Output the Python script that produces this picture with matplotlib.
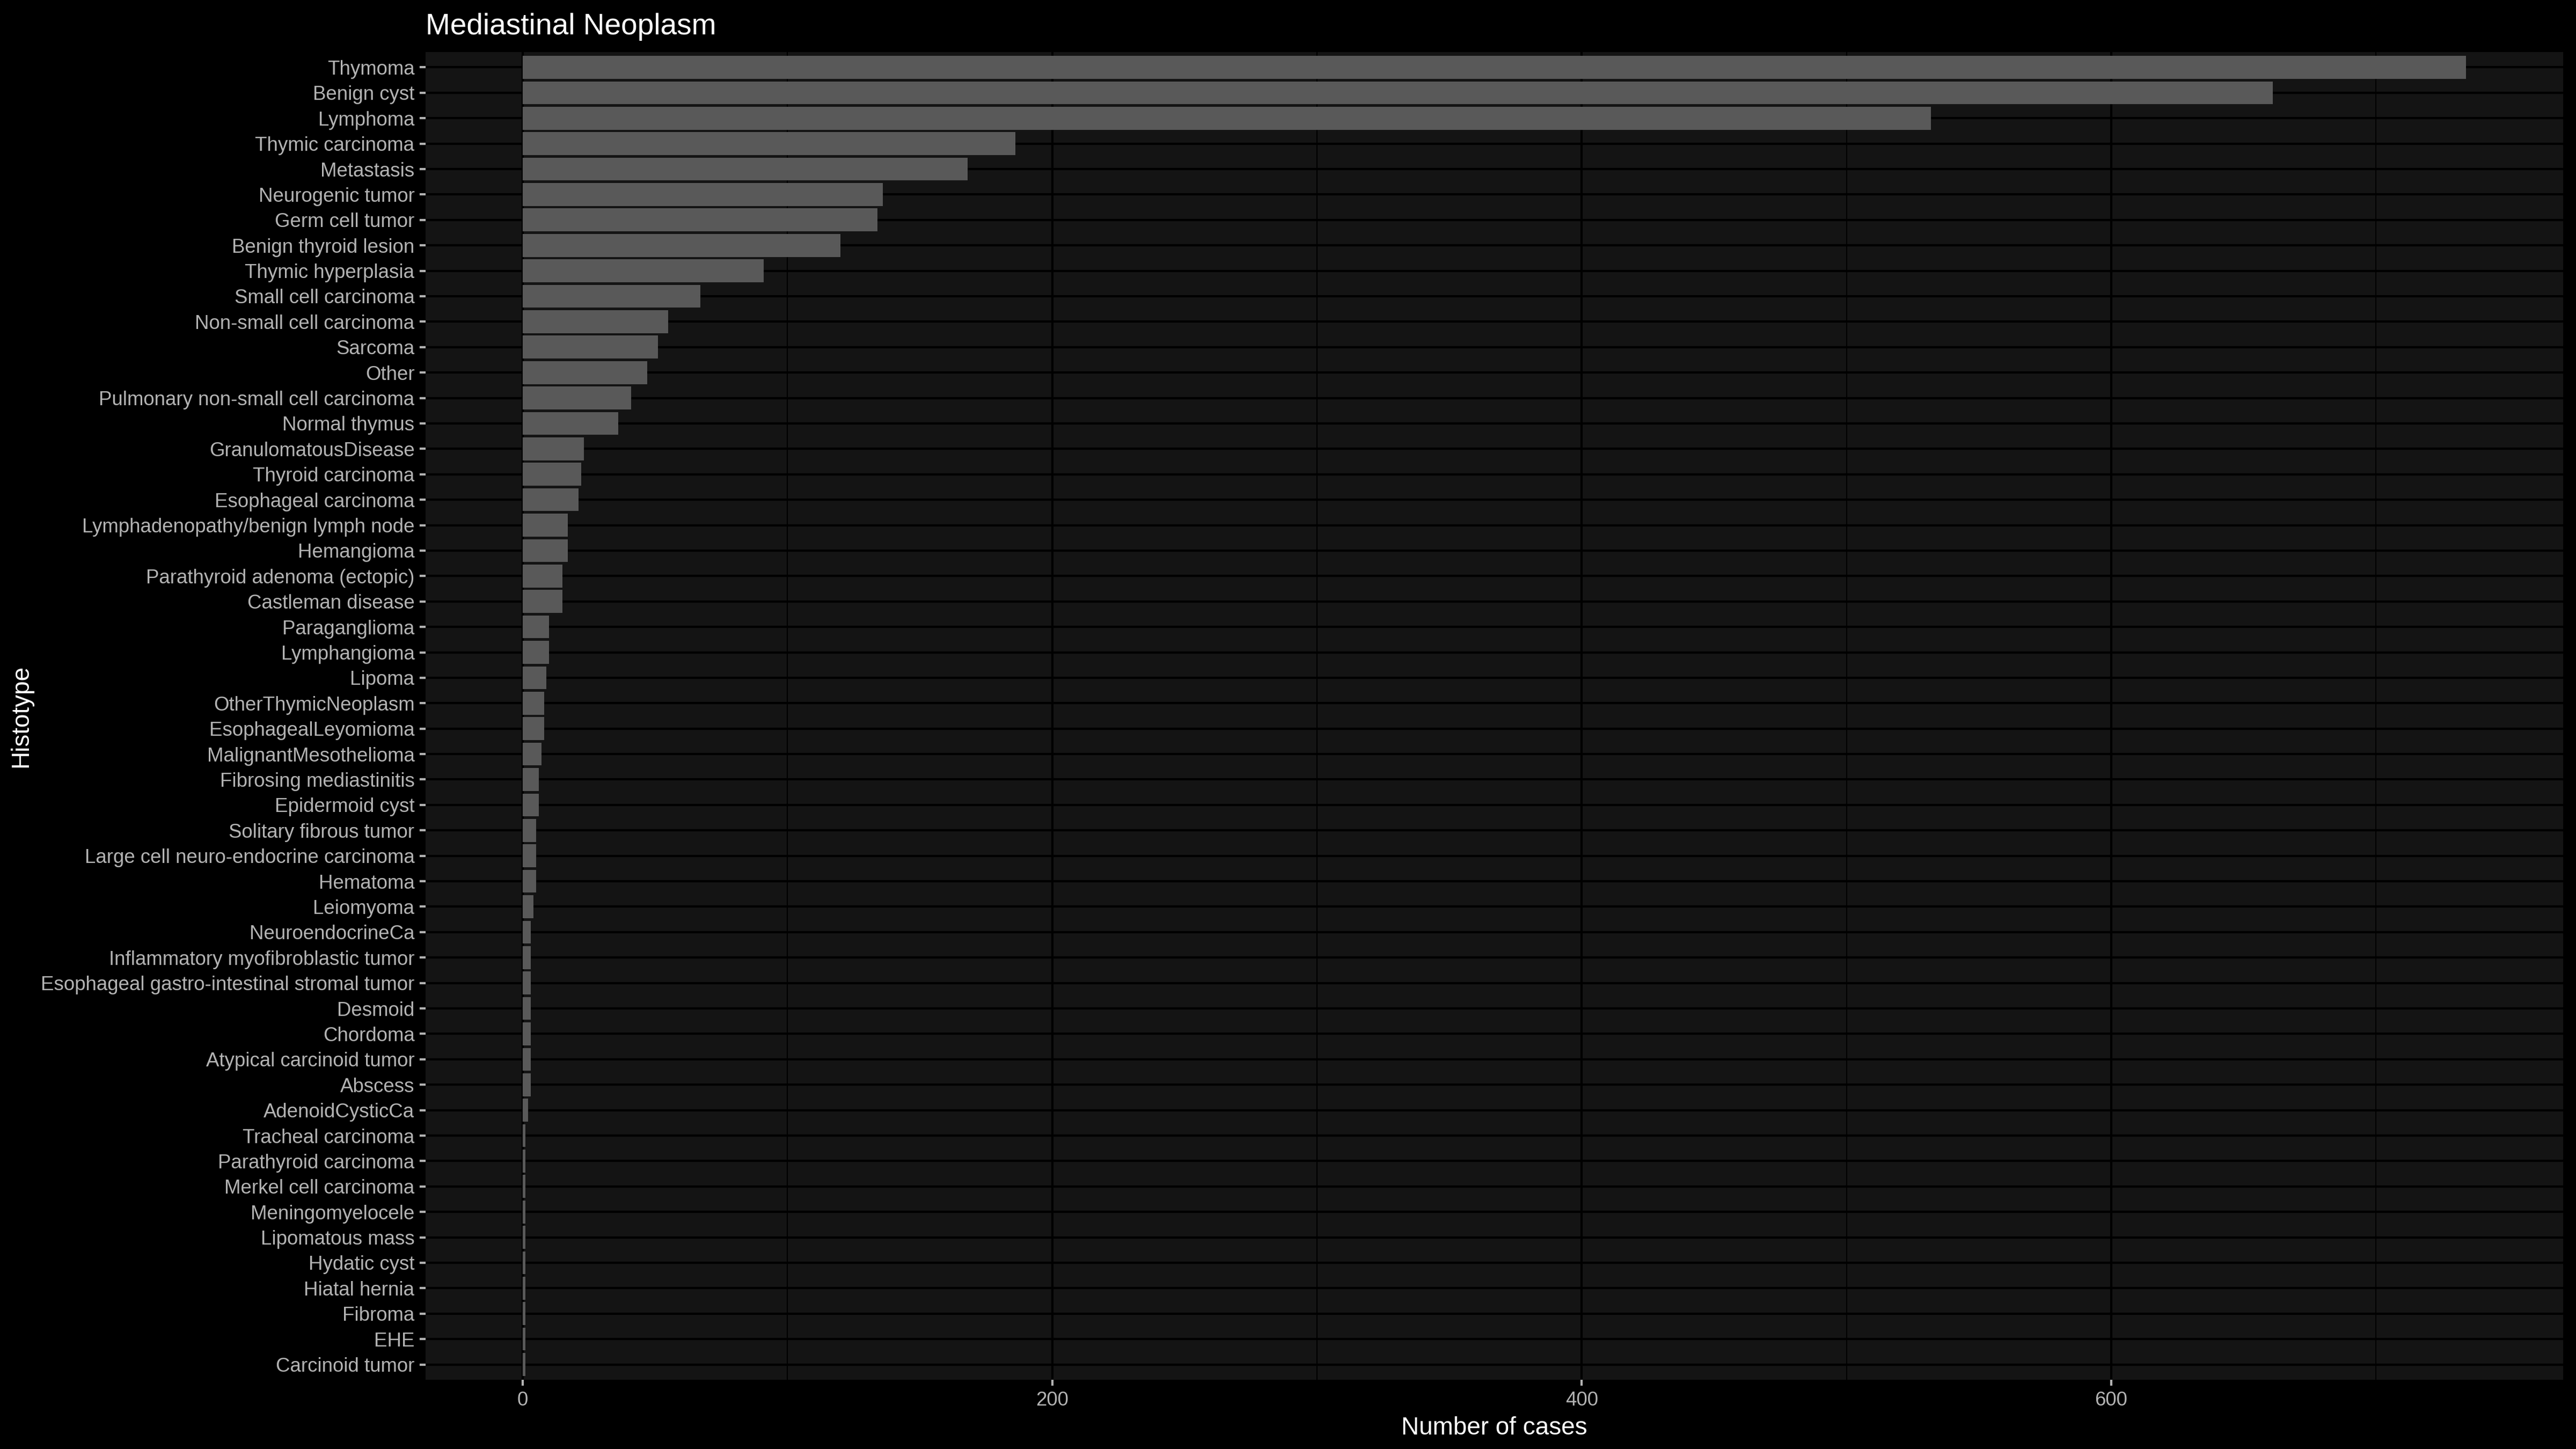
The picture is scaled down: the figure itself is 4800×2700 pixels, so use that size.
import matplotlib
matplotlib.use("Agg")
import matplotlib.pyplot as plt
from matplotlib.ticker import FixedLocator

plt.rcParams['font.family'] = ['Liberation Sans', 'DejaVu Sans']

categories = [
    "Thymoma", "Benign cyst", "Lymphoma", "Thymic carcinoma", "Metastasis",
    "Neurogenic tumor", "Germ cell tumor", "Benign thyroid lesion", "Thymic hyperplasia",
    "Small cell carcinoma", "Non-small cell carcinoma", "Sarcoma", "Other",
    "Pulmonary non-small cell carcinoma", "Normal thymus", "GranulomatousDisease",
    "Thyroid carcinoma", "Esophageal carcinoma", "Lymphadenopathy/benign lymph node",
    "Hemangioma", "Parathyroid adenoma (ectopic)", "Castleman disease", "Paraganglioma",
    "Lymphangioma", "Lipoma", "OtherThymicNeoplasm", "EsophagealLeyomioma",
    "MalignantMesothelioma", "Fibrosing mediastinitis", "Epidermoid cyst",
    "Solitary fibrous tumor", "Large cell neuro-endocrine carcinoma", "Hematoma",
    "Leiomyoma", "NeuroendocrineCa", "Inflammatory myofibroblastic tumor",
    "Esophageal gastro-intestinal stromal tumor", "Desmoid", "Chordoma",
    "Atypical carcinoid tumor", "Abscess", "AdenoidCysticCa", "Tracheal carcinoma",
    "Parathyroid carcinoma", "Merkel cell carcinoma", "Meningomyelocele",
    "Lipomatous mass", "Hydatic cyst", "Hiatal hernia", "Fibroma", "EHE",
    "Carcinoid tumor",
]
cases = [
    734, 661, 532, 186, 168,
    136, 134, 120, 91,
    67, 55, 51, 47,
    41, 36, 23,
    22, 21, 17,
    17, 15, 15, 10,
    10, 9, 8, 8,
    7, 6, 6,
    5, 5, 5,
    4, 3, 3,
    3, 3, 3,
    3, 3, 2, 1,
    1, 1, 1,
    1, 1, 1, 1, 1,
    1,
]
x_ticks = [0, 200, 400, 600]
x_minor_ticks = [100, 300, 500, 700]
title = "Mediastinal Neoplasm"
x_label = "Number of cases"
y_label = "Histotype"

fig = plt.figure(figsize=(16, 9), dpi=300, facecolor="black")
ax = fig.add_axes([793/4800, 1 - 2571/2700, (4776-793)/4800, (2571-97)/2700])
ax.set_facecolor("#141414")

n = len(categories)
ypos = list(range(n))[::-1]
ax.barh(ypos, cases, height=0.9, color="#595959", zorder=3)

vmax = max(cases)
ax.set_xlim(-0.05*vmax, 1.05*vmax)
ax.set_ylim(-0.6, n - 0.4)

ax.xaxis.set_major_locator(FixedLocator(x_ticks))
ax.xaxis.set_minor_locator(FixedLocator(x_minor_ticks))
ax.set_yticks(ypos)
ax.set_yticklabels(categories)

ax.grid(which="major", axis="both", color="black", linewidth=1.0, zorder=1)
ax.grid(which="minor", axis="x", color="black", linewidth=0.5, zorder=1)
ax.set_axisbelow(True)

for s in ax.spines.values():
    s.set_visible(False)

ax.tick_params(axis="both", which="major", colors="#B3B3B3", labelcolor="#B3B3B3",
               labelsize=8.8, length=2.75, width=1.0, pad=2.2)
ax.tick_params(axis="x", which="minor", length=0)

ax.set_xlabel(x_label, color="white", fontsize=11, labelpad=3)
ax.set_ylabel(y_label, color="white", fontsize=11, labelpad=3.5)
ax.set_title(title, color="white", fontsize=13.2, loc="left", pad=8)

fig.savefig("out.png", dpi=300, facecolor="black")
